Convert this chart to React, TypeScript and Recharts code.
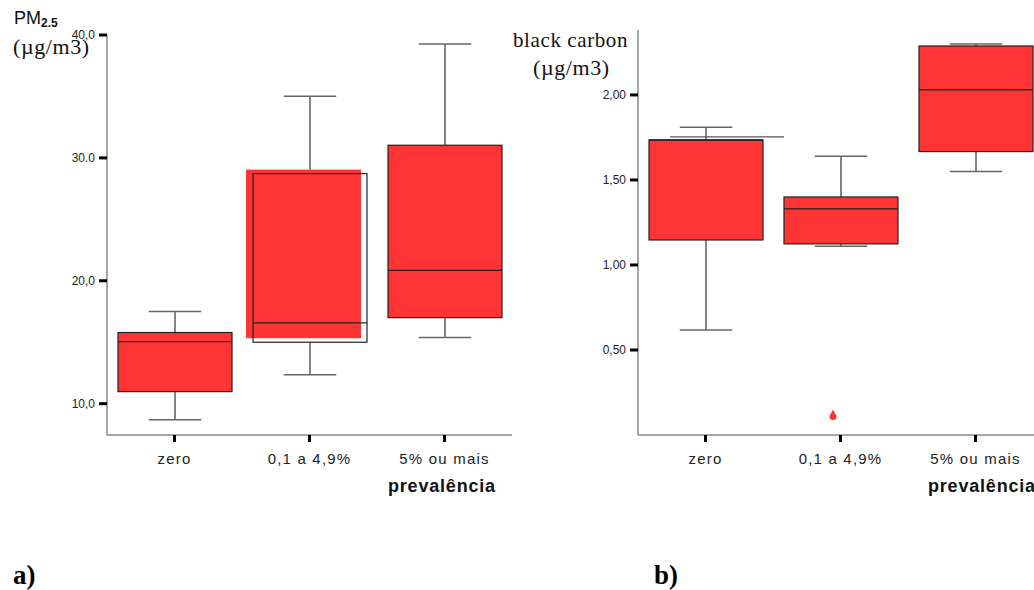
import { Bar, ComposedChart, XAxis, YAxis } from "recharts"

const CATS = ["zero", "0,1 a 4,9%", "5% ou mais"]

// panel a: PM2.5
const PM_LO = [8.7, 12.36, 15.38]
const PM_Q1 = [10.98, 15.0, 17.0]
const PM_MED = [15.05, 16.58, 20.84]
const PM_Q3 = [15.79, 28.72, 31.03]
const PM_HI = [17.5, 35.02, 39.26]
const PM_TICKS = [10, 20, 30, 40]
const PM_TICK_LABELS = ["10,0", "20,0", "30.0", "40,0"]

// panel b: black carbon
const BC_LO = [0.618, 1.11, 1.55]
const BC_Q1 = [1.147, 1.124, 1.667]
const BC_MED = [1.735, 1.33, 2.03]
const BC_Q3 = [1.735, 1.4, 2.288]
const BC_HI = [1.81, 1.64, 2.3]
const BC_OUTLIER = [null, 0.12, null]
const BC_EXTRA = [1.753, null, null]
const BC_TICKS = [0.5, 1, 1.5, 2]
const BC_TICK_LABELS = ["0,50", "1,00", "1,50", "2,00"]

const RED = "#ff3434"
const SANS = "'Liberation Sans', Arial, sans-serif"
const SERIF = "'Liberation Serif', 'Times New Roman', serif"

const pmData = CATS.map((cat, i) => ({ cat, box: [PM_Q1[i], PM_Q3[i]] }))
const bcData = CATS.map((cat, i) => ({ cat, box: [BC_Q1[i], BC_Q3[i]] }))

type Stats = {
  lo: number[]
  q1: number[]
  med: number[]
  q3: number[]
  hi: number[]
  outlier?: (number | null)[]
  extra?: (number | null)[]
  shifted?: string
}

// box drawn from the bar rect; whiskers use the same px/unit as the bar
function boxShape(s: Stats) {
  return (props: any) => {
    const { x, y, width, height, payload } = props
    const i = CATS.indexOf(payload?.cat)
    if (i < 0) return <g />
    const top = Math.min(y, y + height)
    const h = Math.abs(height)
    const k = h / (s.q3[i] - s.q1[i] || 1)
    const py = (v: number) => top + (s.q3[i] - v) * k
    const cx = x + width / 2
    const cap = width * 0.23
    const shifted = s.shifted === payload.cat
    const out = s.outlier?.[i]
    const extra = s.extra?.[i]
    return (
      <g>
        <line x1={cx} x2={cx} y1={py(s.hi[i])} y2={top} stroke="#444" strokeWidth={1.3} />
        <line x1={cx} x2={cx} y1={py(s.lo[i])} y2={top + h} stroke="#444" strokeWidth={1.3} />
        <line x1={cx - cap} x2={cx + cap} y1={py(s.hi[i])} y2={py(s.hi[i])} stroke="#666" strokeWidth={1.5} />
        <line x1={cx - cap} x2={cx + cap} y1={py(s.lo[i])} y2={py(s.lo[i])} stroke="#666" strokeWidth={1.5} />
        {extra != null && (
          <line x1={x + 21} x2={x + width + 21} y1={py(extra)} y2={py(extra)} stroke="#555" strokeWidth={1.3} />
        )}
        {shifted ? (
          <>
            <rect x={x - 7} y={top - 4} width={width + 1} height={h} fill={RED} />
            <rect x={x} y={top} width={width} height={h} fill="none" stroke="#222" strokeWidth={1.2} />
          </>
        ) : (
          <rect x={x} y={top} width={width} height={h} fill={RED} stroke="#222" strokeWidth={1.2} />
        )}
        <line x1={x} x2={x + width} y1={py(s.med[i])} y2={py(s.med[i])} stroke="#222" strokeWidth={1.3} />
        {out != null && (
          <path
            d={`M${cx - 8},${py(out) - 5} C${cx - 7},${py(out) - 2} ${cx - 4.5},${py(out)} ${cx - 4.5},${py(out) + 2} A3.5,3.5 0 0 1 ${cx - 11.5},${py(out) + 2} C${cx - 11.5},${py(out)} ${cx - 9},${py(out) - 2} ${cx - 8},${py(out) - 5} Z`}
            fill={RED}
          />
        )}
      </g>
    )
  }
}

const txt = (left: number, top: number, extra: React.CSSProperties = {}) => ({
  position: "absolute" as const,
  left,
  top,
  lineHeight: 1,
  whiteSpace: "nowrap" as const,
  ...extra,
})

export default function App() {
  const axisLine = { stroke: "#8a8a8a", strokeWidth: 1.5 }
  const tickLine = { stroke: "#000", strokeWidth: 3 }
  const yTick = { fontSize: 12, fill: "#222", fontFamily: SANS }
  const xTick = { fontSize: 15, fill: "#222", fontFamily: SANS, letterSpacing: 1.2 }

  return (
    <div style={{ position: "absolute", left: 0, top: 0, width: 1034, height: 590, overflow: "hidden", background: "#fff" }}>
      <div style={{ position: "absolute", left: 0, top: 0 }}>
        <ComposedChart width={520} height={480} data={pmData} margin={{ top: 35, right: 8, bottom: 15, left: 0 }}>
          <XAxis dataKey="cat" axisLine={axisLine} tickLine={tickLine} tickSize={7} tickMargin={11} tick={xTick} height={30} interval={0} />
          <YAxis
            type="number"
            domain={[7.45, 40]}
            allowDataOverflow
            ticks={PM_TICKS}
            tickFormatter={(v: number) => PM_TICK_LABELS[PM_TICKS.indexOf(v)] ?? String(v)}
            width={107}
            axisLine={axisLine}
            tickLine={tickLine}
            tickSize={8}
            tickMargin={4}
            tick={yTick}
          />
          <Bar
            dataKey="box"
            barSize={114}
            isAnimationActive={false}
            shape={boxShape({ lo: PM_LO, q1: PM_Q1, med: PM_MED, q3: PM_Q3, hi: PM_HI, shifted: "0,1 a 4,9%" })}
          />
        </ComposedChart>
      </div>

      <div style={{ position: "absolute", left: 530, top: 0 }}>
        <ComposedChart width={518} height={480} data={bcData} margin={{ top: 30, right: 5, bottom: 15, left: 0 }}>
          <XAxis dataKey="cat" axisLine={axisLine} tickLine={tickLine} tickSize={7} tickMargin={11} tick={xTick} height={30} interval={0} />
          <YAxis
            type="number"
            domain={[0, 2.382]}
            allowDataOverflow
            ticks={BC_TICKS}
            tickFormatter={(v: number) => BC_TICK_LABELS[BC_TICKS.indexOf(v)] ?? String(v)}
            width={108}
            axisLine={axisLine}
            tickLine={tickLine}
            tickSize={8}
            tickMargin={4}
            tick={yTick}
          />
          <Bar
            dataKey="box"
            barSize={114}
            isAnimationActive={false}
            shape={boxShape({ lo: BC_LO, q1: BC_Q1, med: BC_MED, q3: BC_Q3, hi: BC_HI, outlier: BC_OUTLIER, extra: BC_EXTRA })}
          />
        </ComposedChart>
      </div>

      <div style={txt(14, 9, { fontFamily: SANS, fontSize: 18, color: "#111" })}>
        PM<span style={{ fontSize: 12, fontWeight: "bold", position: "relative", top: 3 }}>2.5</span>
      </div>
      <div style={txt(13, 36, { fontFamily: SERIF, fontSize: 22, letterSpacing: 0.6, color: "#111" })}>(µg/m3)</div>
      <div style={txt(388, 477, { fontFamily: SANS, fontSize: 18, fontWeight: "bold", letterSpacing: 0.8, color: "#111" })}>prevalência</div>

      <div style={txt(513, 30, { fontFamily: SERIF, fontSize: 21, letterSpacing: 0.6, color: "#111" })}>black carbon</div>
      <div style={txt(533, 57, { fontFamily: SERIF, fontSize: 22, letterSpacing: 0.6, color: "#111" })}>(µg/m3)</div>
      <div style={txt(928, 477, { fontFamily: SANS, fontSize: 18, fontWeight: "bold", letterSpacing: 0.8, color: "#111" })}>prevalência</div>

      <div style={txt(13, 562, { fontFamily: SERIF, fontSize: 27, fontWeight: "bold", color: "#000" })}>a)</div>
      <div style={txt(654, 562, { fontFamily: SERIF, fontSize: 27, fontWeight: "bold", color: "#000" })}>b)</div>
    </div>
  )
}
